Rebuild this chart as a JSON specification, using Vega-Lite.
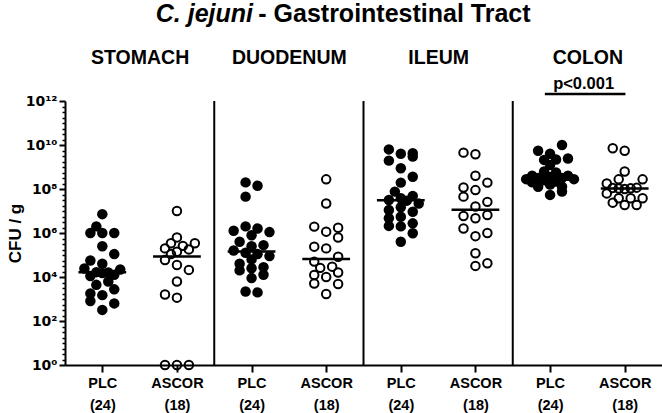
{
  "$schema": "https://vega.github.io/schema/vega-lite/v6.json",
  "width": 597,
  "height": 264,
  "autosize": {"type": "none"},
  "padding": {"left": 65, "top": 101, "right": 0, "bottom": 48},
  "background": "white",
  "config": {"view": {"stroke": null}, "font": "Liberation Sans"},
  "datasets": {
    "cfu": [
      {"organ":"STOMACH","grp":"PLC","cfu":7.2e6,"j":0},{"organ":"STOMACH","grp":"PLC","cfu":2.0e6,"j":-1},{"organ":"STOMACH","grp":"PLC","cfu":1.0e6,"j":-2},{"organ":"STOMACH","grp":"PLC","cfu":1.0e6,"j":0},{"organ":"STOMACH","grp":"PLC","cfu":1.0e6,"j":2},{"organ":"STOMACH","grp":"PLC","cfu":2.5e5,"j":0},{"organ":"STOMACH","grp":"PLC","cfu":1.1e5,"j":2},{"organ":"STOMACH","grp":"PLC","cfu":5.6e4,"j":-2},{"organ":"STOMACH","grp":"PLC","cfu":4.0e4,"j":0},{"organ":"STOMACH","grp":"PLC","cfu":2.45e4,"j":-3},{"organ":"STOMACH","grp":"PLC","cfu":2.2e4,"j":3},{"organ":"STOMACH","grp":"PLC","cfu":1.66e4,"j":-1},{"organ":"STOMACH","grp":"PLC","cfu":1.6e4,"j":1},{"organ":"STOMACH","grp":"PLC","cfu":1.5e4,"j":0},{"organ":"STOMACH","grp":"PLC","cfu":1.26e4,"j":2},{"organ":"STOMACH","grp":"PLC","cfu":1.1e4,"j":-2},{"organ":"STOMACH","grp":"PLC","cfu":6.2e3,"j":1},{"organ":"STOMACH","grp":"PLC","cfu":4.4e3,"j":-1},{"organ":"STOMACH","grp":"PLC","cfu":2.75e3,"j":2},{"organ":"STOMACH","grp":"PLC","cfu":1.8e3,"j":-2},{"organ":"STOMACH","grp":"PLC","cfu":1.5e3,"j":0},{"organ":"STOMACH","grp":"PLC","cfu":8.1e2,"j":-2},{"organ":"STOMACH","grp":"PLC","cfu":6.3e2,"j":2},{"organ":"STOMACH","grp":"PLC","cfu":3.2e2,"j":0},
      {"organ":"STOMACH","grp":"ASCOR","cfu":1.0e7,"j":0},{"organ":"STOMACH","grp":"ASCOR","cfu":6.3e5,"j":0},{"organ":"STOMACH","grp":"ASCOR","cfu":3.4e5,"j":-1},{"organ":"STOMACH","grp":"ASCOR","cfu":3.4e5,"j":3},{"organ":"STOMACH","grp":"ASCOR","cfu":2.6e5,"j":1},{"organ":"STOMACH","grp":"ASCOR","cfu":2.0e5,"j":-2},{"organ":"STOMACH","grp":"ASCOR","cfu":1.8e5,"j":2},{"organ":"STOMACH","grp":"ASCOR","cfu":1.4e5,"j":0},{"organ":"STOMACH","grp":"ASCOR","cfu":1.1e5,"j":-1},{"organ":"STOMACH","grp":"ASCOR","cfu":5.9e4,"j":-2},{"organ":"STOMACH","grp":"ASCOR","cfu":3.5e4,"j":0},{"organ":"STOMACH","grp":"ASCOR","cfu":2.1e4,"j":2},{"organ":"STOMACH","grp":"ASCOR","cfu":6.2e3,"j":0},{"organ":"STOMACH","grp":"ASCOR","cfu":1.6e3,"j":-2},{"organ":"STOMACH","grp":"ASCOR","cfu":1.15e3,"j":0},{"organ":"STOMACH","grp":"ASCOR","cfu":1,"j":-2},{"organ":"STOMACH","grp":"ASCOR","cfu":1,"j":0},{"organ":"STOMACH","grp":"ASCOR","cfu":1,"j":2},
      {"organ":"DUODENUM","grp":"PLC","cfu":2.0e8,"j":-1},{"organ":"DUODENUM","grp":"PLC","cfu":1.4e8,"j":1},{"organ":"DUODENUM","grp":"PLC","cfu":4.5e7,"j":-1},{"organ":"DUODENUM","grp":"PLC","cfu":2.0e6,"j":-1},{"organ":"DUODENUM","grp":"PLC","cfu":1.6e6,"j":1},{"organ":"DUODENUM","grp":"PLC","cfu":1.26e6,"j":-3},{"organ":"DUODENUM","grp":"PLC","cfu":1.1e6,"j":3},{"organ":"DUODENUM","grp":"PLC","cfu":7.9e5,"j":0},{"organ":"DUODENUM","grp":"PLC","cfu":4.0e5,"j":-2},{"organ":"DUODENUM","grp":"PLC","cfu":2.8e5,"j":2},{"organ":"DUODENUM","grp":"PLC","cfu":2.5e5,"j":0},{"organ":"DUODENUM","grp":"PLC","cfu":1.6e5,"j":-3},{"organ":"DUODENUM","grp":"PLC","cfu":1.26e5,"j":-1},{"organ":"DUODENUM","grp":"PLC","cfu":1.1e5,"j":1},{"organ":"DUODENUM","grp":"PLC","cfu":8.9e4,"j":3},{"organ":"DUODENUM","grp":"PLC","cfu":6.3e4,"j":0},{"organ":"DUODENUM","grp":"PLC","cfu":4.0e4,"j":-2},{"organ":"DUODENUM","grp":"PLC","cfu":2.8e4,"j":2},{"organ":"DUODENUM","grp":"PLC","cfu":2.5e4,"j":0},{"organ":"DUODENUM","grp":"PLC","cfu":2.0e4,"j":-2},{"organ":"DUODENUM","grp":"PLC","cfu":1.26e4,"j":2},{"organ":"DUODENUM","grp":"PLC","cfu":8.9e3,"j":0},{"organ":"DUODENUM","grp":"PLC","cfu":2.2e3,"j":-1},{"organ":"DUODENUM","grp":"PLC","cfu":2.0e3,"j":1},
      {"organ":"DUODENUM","grp":"ASCOR","cfu":2.75e8,"j":0},{"organ":"DUODENUM","grp":"ASCOR","cfu":2.2e7,"j":0},{"organ":"DUODENUM","grp":"ASCOR","cfu":1.95e6,"j":-2},{"organ":"DUODENUM","grp":"ASCOR","cfu":1.74e6,"j":2},{"organ":"DUODENUM","grp":"ASCOR","cfu":1.15e6,"j":0},{"organ":"DUODENUM","grp":"ASCOR","cfu":6.2e5,"j":2},{"organ":"DUODENUM","grp":"ASCOR","cfu":2.4e5,"j":-2},{"organ":"DUODENUM","grp":"ASCOR","cfu":2.0e5,"j":0},{"organ":"DUODENUM","grp":"ASCOR","cfu":8.3e4,"j":2},{"organ":"DUODENUM","grp":"ASCOR","cfu":5.0e4,"j":-2},{"organ":"DUODENUM","grp":"ASCOR","cfu":2.95e4,"j":1},{"organ":"DUODENUM","grp":"ASCOR","cfu":2.6e4,"j":-1},{"organ":"DUODENUM","grp":"ASCOR","cfu":1.6e4,"j":2},{"organ":"DUODENUM","grp":"ASCOR","cfu":1.23e4,"j":-2},{"organ":"DUODENUM","grp":"ASCOR","cfu":1.0e4,"j":0},{"organ":"DUODENUM","grp":"ASCOR","cfu":5.1e3,"j":-2},{"organ":"DUODENUM","grp":"ASCOR","cfu":4.8e3,"j":2},{"organ":"DUODENUM","grp":"ASCOR","cfu":1.7e3,"j":0},
      {"organ":"ILEUM","grp":"PLC","cfu":6.3e9,"j":-2},{"organ":"ILEUM","grp":"PLC","cfu":4.2e9,"j":2},{"organ":"ILEUM","grp":"PLC","cfu":4.0e9,"j":0},{"organ":"ILEUM","grp":"PLC","cfu":3.0e9,"j":2},{"organ":"ILEUM","grp":"PLC","cfu":1.95e9,"j":-2},{"organ":"ILEUM","grp":"PLC","cfu":8.7e8,"j":0},{"organ":"ILEUM","grp":"PLC","cfu":3.6e8,"j":2},{"organ":"ILEUM","grp":"PLC","cfu":1.95e8,"j":0},{"organ":"ILEUM","grp":"PLC","cfu":7.6e7,"j":-1},{"organ":"ILEUM","grp":"PLC","cfu":4.8e7,"j":2},{"organ":"ILEUM","grp":"PLC","cfu":3.8e7,"j":0},{"organ":"ILEUM","grp":"PLC","cfu":3.16e7,"j":-2},{"organ":"ILEUM","grp":"PLC","cfu":2.95e7,"j":1},{"organ":"ILEUM","grp":"PLC","cfu":2.2e7,"j":3},{"organ":"ILEUM","grp":"PLC","cfu":1.48e7,"j":0},{"organ":"ILEUM","grp":"PLC","cfu":1.12e7,"j":-2},{"organ":"ILEUM","grp":"PLC","cfu":9.3e6,"j":2},{"organ":"ILEUM","grp":"PLC","cfu":5.5e6,"j":0},{"organ":"ILEUM","grp":"PLC","cfu":4.7e6,"j":-2},{"organ":"ILEUM","grp":"PLC","cfu":2.75e6,"j":2},{"organ":"ILEUM","grp":"PLC","cfu":2.1e6,"j":-2},{"organ":"ILEUM","grp":"PLC","cfu":2.0e6,"j":0},{"organ":"ILEUM","grp":"PLC","cfu":9.8e5,"j":2},{"organ":"ILEUM","grp":"PLC","cfu":4.0e5,"j":0},
      {"organ":"ILEUM","grp":"ASCOR","cfu":4.5e9,"j":-2},{"organ":"ILEUM","grp":"ASCOR","cfu":3.8e9,"j":0},{"organ":"ILEUM","grp":"ASCOR","cfu":4.0e8,"j":0},{"organ":"ILEUM","grp":"ASCOR","cfu":1.95e8,"j":2},{"organ":"ILEUM","grp":"ASCOR","cfu":1.17e8,"j":-2},{"organ":"ILEUM","grp":"ASCOR","cfu":8.9e7,"j":0},{"organ":"ILEUM","grp":"ASCOR","cfu":4.5e7,"j":-2},{"organ":"ILEUM","grp":"ASCOR","cfu":2.6e7,"j":2},{"organ":"ILEUM","grp":"ASCOR","cfu":1.6e7,"j":0},{"organ":"ILEUM","grp":"ASCOR","cfu":6.6e6,"j":2},{"organ":"ILEUM","grp":"ASCOR","cfu":5.9e6,"j":-2},{"organ":"ILEUM","grp":"ASCOR","cfu":4.7e6,"j":0},{"organ":"ILEUM","grp":"ASCOR","cfu":1.6e6,"j":-2},{"organ":"ILEUM","grp":"ASCOR","cfu":1.0e6,"j":2},{"organ":"ILEUM","grp":"ASCOR","cfu":7.2e5,"j":0},{"organ":"ILEUM","grp":"ASCOR","cfu":1.2e5,"j":0},{"organ":"ILEUM","grp":"ASCOR","cfu":4.2e4,"j":2},{"organ":"ILEUM","grp":"ASCOR","cfu":3.2e4,"j":0},
      {"organ":"COLON","grp":"PLC","cfu":1.0e10,"j":2},{"organ":"COLON","grp":"PLC","cfu":5.5e9,"j":-2},{"organ":"COLON","grp":"PLC","cfu":4.0e9,"j":0},{"organ":"COLON","grp":"PLC","cfu":2.45e9,"j":3},{"organ":"COLON","grp":"PLC","cfu":2.2e9,"j":1},{"organ":"COLON","grp":"PLC","cfu":2.1e9,"j":-1},{"organ":"COLON","grp":"PLC","cfu":1.23e9,"j":0},{"organ":"COLON","grp":"PLC","cfu":6.3e8,"j":-1},{"organ":"COLON","grp":"PLC","cfu":5.6e8,"j":1},{"organ":"COLON","grp":"PLC","cfu":4.0e8,"j":-3},{"organ":"COLON","grp":"PLC","cfu":4.0e8,"j":3},{"organ":"COLON","grp":"PLC","cfu":3.5e8,"j":0},{"organ":"COLON","grp":"PLC","cfu":3.16e8,"j":-2},{"organ":"COLON","grp":"PLC","cfu":3.16e8,"j":2},{"organ":"COLON","grp":"PLC","cfu":2.8e8,"j":-4},{"organ":"COLON","grp":"PLC","cfu":2.8e8,"j":4},{"organ":"COLON","grp":"PLC","cfu":2.5e8,"j":-1},{"organ":"COLON","grp":"PLC","cfu":2.2e8,"j":1},{"organ":"COLON","grp":"PLC","cfu":2.0e8,"j":-3},{"organ":"COLON","grp":"PLC","cfu":1.6e8,"j":0},{"organ":"COLON","grp":"PLC","cfu":1.26e8,"j":-2},{"organ":"COLON","grp":"PLC","cfu":1.26e8,"j":2},{"organ":"COLON","grp":"PLC","cfu":7.6e7,"j":2},{"organ":"COLON","grp":"PLC","cfu":5.4e7,"j":0},
      {"organ":"COLON","grp":"ASCOR","cfu":7.1e9,"j":-2},{"organ":"COLON","grp":"ASCOR","cfu":5.5e9,"j":0},{"organ":"COLON","grp":"ASCOR","cfu":6.2e8,"j":0},{"organ":"COLON","grp":"ASCOR","cfu":2.75e8,"j":-1},{"organ":"COLON","grp":"ASCOR","cfu":2.75e8,"j":3},{"organ":"COLON","grp":"ASCOR","cfu":1.8e8,"j":-3},{"organ":"COLON","grp":"ASCOR","cfu":1.15e8,"j":2},{"organ":"COLON","grp":"ASCOR","cfu":1.12e8,"j":-2},{"organ":"COLON","grp":"ASCOR","cfu":1.07e8,"j":1},{"organ":"COLON","grp":"ASCOR","cfu":1.05e8,"j":-1},{"organ":"COLON","grp":"ASCOR","cfu":1.0e8,"j":0},{"organ":"COLON","grp":"ASCOR","cfu":6.3e7,"j":-3},{"organ":"COLON","grp":"ASCOR","cfu":3.8e7,"j":3},{"organ":"COLON","grp":"ASCOR","cfu":3.8e7,"j":-1},{"organ":"COLON","grp":"ASCOR","cfu":3.8e7,"j":1},{"organ":"COLON","grp":"ASCOR","cfu":2.4e7,"j":-2},{"organ":"COLON","grp":"ASCOR","cfu":1.86e7,"j":0},{"organ":"COLON","grp":"ASCOR","cfu":1.86e7,"j":2}
    ]
  },
  "resolve": {"axis": {"x": "independent", "y": "independent"}},
  "layer": [
    {
      "data": {"values": [{"b": 2}, {"b": 4}, {"b": 6}]},
      "mark": {"type": "rule", "color": "black", "strokeWidth": 2},
      "encoding": {
        "x": {
          "field": "b", "type": "quantitative",
          "scale": {"domain": [0, 8], "nice": false, "zero": false},
          "axis": {
            "orient": "top", "values": [1, 3, 5, 7],
            "labelExpr": "['STOMACH','DUODENUM','ILEUM','COLON'][(datum.value-1)/2]",
            "domain": false, "ticks": false, "tickSize": 0, "grid": false, "title": null,
            "labelFont": "Liberation Sans", "labelFontWeight": "bold", "labelFontSize": 19.5,
            "labelColor": "black", "labelBaseline": "alphabetic", "labelPadding": 38, "labelFlush": false, "labelOverlap": false
          }
        }
      }
    },
    {
      "data": {"name": "cfu"},
      "transform": [
        {"filter": "datum.grp == 'PLC'"},
        {"calculate": "indexof(['STOMACH','DUODENUM','ILEUM','COLON'], datum.organ)*2 + (datum.grp == 'PLC' ? 0.5 : 1.5)", "as": "xc"},
        {"calculate": "datum.xc + datum.j*0.08", "as": "xp"}
      ],
      "mark": {"type": "point", "shape": "circle", "filled": true, "color": "black", "size": 110, "opacity": 1},
      "encoding": {
        "x": {
          "field": "xp", "type": "quantitative",
          "scale": {"domain": [0, 8], "nice": false, "zero": false},
          "axis": {
            "orient": "bottom", "values": [0.5, 1.5, 2.5, 3.5, 4.5, 5.5, 6.5, 7.5],
            "labelExpr": "(datum.value % 2) < 1 ? ['PLC','(24)'] : ['ASCOR','(18)']",
            "grid": false, "title": null,
            "domainColor": "black", "domainWidth": 2, "tickColor": "black", "tickWidth": 2, "tickSize": 7,
            "labelFont": "Liberation Sans", "labelFontWeight": "bold", "labelFontSize": 14.5, "labelColor": "black",
            "labelLineHeight": 22, "labelPadding": 4, "labelFlush": false, "labelOverlap": false
          }
        },
        "y": {
          "field": "cfu", "type": "quantitative",
          "scale": {"type": "log", "domain": [1, 1e12], "nice": false},
          "axis": {
            "values": [1, 1e2, 1e4, 1e6, 1e8, 1e10, 1e12],
            "labelExpr": "'10' + ['⁰','²','⁴','⁶','⁸','¹⁰','¹²'][round(log(datum.value)/LN10/2)]",
            "grid": false, "title": "CFU / g",
            "domainColor": "black", "domainWidth": 2, "tickColor": "black", "tickWidth": 2, "tickSize": 6,
            "labelFont": "DejaVu Sans", "labelFontWeight": "bold", "labelFontSize": 14, "labelColor": "black",
            "labelPadding": 2, "labelFlush": false, "labelOverlap": false,
            "titleFont": "Liberation Sans", "titleFontWeight": "bold", "titleFontSize": 17, "titleColor": "black",
            "titleX": -50, "titleY": 132, "titleAngle": -90, "titleAlign": "center", "titleBaseline": "middle"
          }
        }
      }
    },
    {
      "data": {"name": "cfu"},
      "transform": [
        {"filter": "datum.grp == 'ASCOR'"},
        {"calculate": "indexof(['STOMACH','DUODENUM','ILEUM','COLON'], datum.organ)*2 + (datum.grp == 'PLC' ? 0.5 : 1.5)", "as": "xc"},
        {"calculate": "datum.xc + datum.j*0.08", "as": "xp"}
      ],
      "mark": {"type": "point", "shape": "circle", "filled": false, "stroke": "black", "strokeWidth": 2, "size": 72, "opacity": 1},
      "encoding": {
        "x": {"field": "xp", "type": "quantitative", "scale": {"domain": [0, 8], "nice": false, "zero": false}, "axis": null},
        "y": {"field": "cfu", "type": "quantitative", "scale": {"type": "log", "domain": [1, 1e12], "nice": false}, "axis": null}
      }
    },
    {
      "data": {"name": "cfu"},
      "transform": [
        {"aggregate": [{"op": "median", "field": "cfu", "as": "med"}], "groupby": ["organ", "grp"]},
        {"calculate": "indexof(['STOMACH','DUODENUM','ILEUM','COLON'], datum.organ)*2 + (datum.grp == 'PLC' ? 0.5 : 1.5)", "as": "xc"},
        {"calculate": "datum.xc - 0.32", "as": "x1"},
        {"calculate": "datum.xc + 0.32", "as": "x2"}
      ],
      "mark": {"type": "rule", "color": "black", "strokeWidth": 2.5},
      "encoding": {
        "x": {"field": "x1", "type": "quantitative", "scale": {"domain": [0, 8], "nice": false, "zero": false}, "axis": null},
        "x2": {"field": "x2"},
        "y": {
          "field": "med", "type": "quantitative",
          "scale": {"type": "log", "domain": [1, 1e12], "nice": false},
          "axis": {
            "orient": "left",
            "values": [1.778, 3.162, 5.623, 10, 17.78, 31.62, 56.23, 177.8, 316.2, 562.3, 1000, 1778, 3162, 5623, 17780, 31620, 56230, 1e5, 1.778e5, 3.162e5, 5.623e5, 1.778e6, 3.162e6, 5.623e6, 1e7, 1.778e7, 3.162e7, 5.623e7, 1.778e8, 3.162e8, 5.623e8, 1e9, 1.778e9, 3.162e9, 5.623e9, 1.778e10, 3.162e10, 5.623e10, 1e11, 1.778e11, 3.162e11, 5.623e11],
            "labels": false, "domain": false, "grid": false, "title": null,
            "tickColor": "black", "tickWidth": 1.5, "tickSize": 3
          }
        }
      }
    },
    {
      "data": {"values": [{"a": 6.43, "b": 7.51, "h": 2.1e12}]},
      "mark": {"type": "rule", "color": "black", "strokeWidth": 2.5},
      "encoding": {
        "x": {"field": "a", "type": "quantitative", "scale": {"domain": [0, 8], "nice": false, "zero": false}, "axis": null},
        "x2": {"field": "b"},
        "y": {"field": "h", "type": "quantitative", "scale": {"type": "log", "domain": [1, 1e12], "nice": false}, "axis": null}
      }
    },
    {
      "data": {"values": [{"t": "p<0.001", "x": 6.95, "y": 3.6e12}]},
      "mark": {"type": "text", "font": "Liberation Sans", "fontWeight": "bold", "fontSize": 16.5, "align": "center", "baseline": "alphabetic", "color": "black"},
      "encoding": {
        "x": {"field": "x", "type": "quantitative", "scale": {"domain": [0, 8], "nice": false, "zero": false}, "axis": null},
        "y": {"field": "y", "type": "quantitative", "scale": {"type": "log", "domain": [1, 1e12], "nice": false}, "axis": null},
        "text": {"field": "t"}
      }
    },
    {
      "data": {"values": [{"t": "C. jejuni", "x": 2.52, "y": 3.9e15}]},
      "mark": {"type": "text", "font": "Liberation Sans", "fontWeight": "bold", "fontStyle": "italic", "fontSize": 25, "align": "right", "baseline": "alphabetic", "color": "black"},
      "encoding": {
        "x": {"field": "x", "type": "quantitative", "scale": {"domain": [0, 8], "nice": false, "zero": false}, "axis": null},
        "y": {"field": "y", "type": "quantitative", "scale": {"type": "log", "domain": [1, 1e12], "nice": false}, "axis": null},
        "text": {"field": "t"}
      }
    },
    {
      "data": {"values": [{"t": "- Gastrointestinal Tract", "x": 2.59, "y": 3.9e15}]},
      "mark": {"type": "text", "font": "Liberation Sans", "fontWeight": "bold", "fontSize": 25, "align": "left", "baseline": "alphabetic", "color": "black"},
      "encoding": {
        "x": {"field": "x", "type": "quantitative", "scale": {"domain": [0, 8], "nice": false, "zero": false}, "axis": null},
        "y": {"field": "y", "type": "quantitative", "scale": {"type": "log", "domain": [1, 1e12], "nice": false}, "axis": null},
        "text": {"field": "t"}
      }
    }
  ]
}
